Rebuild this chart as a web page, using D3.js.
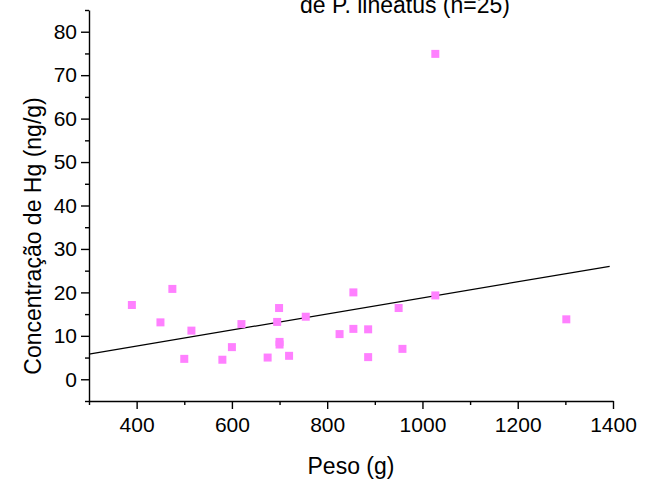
<!DOCTYPE html>
<html>
<head>
  <meta charset="UTF-8">
  <style>
    body { margin: 0; background: #fff; }
    text { font-family: "Liberation Sans", Arial, sans-serif; fill: #000; }
  </style>
</head>
<body>
<div id="chart_div"></div>
<script src="https://d3js.org/d3.v7.min.js"></script>
<script>

// peso (g) and Hg concentration (ng/g) of each fish
const peso = [390, 450, 475, 500, 515, 580, 600, 620, 675, 695, 699, 700, 700,
              720, 755, 826, 855, 855, 886, 886, 950, 958, 1027, 1027, 1302];
const hg   = [17.1, 13.1, 20.8, 4.7, 11.2, 4.5, 7.4, 12.7, 5.0, 13.2, 16.4, 8.6, 8.0,
              5.4, 14.4, 10.4, 20.0, 11.6, 11.5, 5.1, 16.4, 7.0, 19.3, 74.9, 13.8];

// regression line end points
const fitX = [300, 1393];
const fitY = [5.8, 26.0];

const xMajor = [400, 600, 800, 1000, 1200, 1400];
const xMinor = [300, 500, 700, 900, 1100, 1300];
const yMajor = [0, 10, 20, 30, 40, 50, 60, 70, 80];
const yMinor = [-5, 5, 15, 25, 35, 45, 55, 65, 75, 85];

const titleText = "de P. lineatus (n=25)";
const xTitle = "Peso (g)";
const yTitle = "Concentração de Hg (ng/g)";

let width = 646, height = 480;

let svg = d3.select("#chart_div")
    .append("svg")
    .attr("width", width)
    .attr("height", height);

let x = d3.scaleLinear().domain([300, 1400]).range([89, 613]);
let y = d3.scaleLinear().domain([-5, 85]).range([401, 10]);

// Axes
let xAxisG = svg.append("g").attr("transform", "translate(0," + y(-5) + ")");
xAxisG.call(d3.axisBottom(x).tickValues(xMajor).tickSize(8).tickSizeOuter(0)
    .tickPadding(8).tickFormat(d3.format("d")));
xAxisG.append("g").call(d3.axisBottom(x).tickValues(xMinor).tickSize(4).tickSizeOuter(0).tickFormat(""))
    .select(".domain").remove();

let yAxisG = svg.append("g").attr("transform", "translate(" + x(300) + ",0)");
yAxisG.call(d3.axisLeft(y).tickValues(yMajor).tickSize(8).tickSizeOuter(0)
    .tickPadding(4).tickFormat(d3.format("d")));
yAxisG.append("g").call(d3.axisLeft(y).tickValues(yMinor).tickSize(4).tickSizeOuter(0).tickFormat(""))
    .select(".domain").remove();

svg.selectAll(".domain").attr("stroke", "#000").attr("stroke-width", 1.4);
svg.selectAll(".tick line").attr("stroke", "#000").attr("stroke-width", 1.4);
svg.selectAll(".tick text")
    .style("font-family", "'Liberation Sans', Arial, sans-serif")
    .style("font-size", "21px")
    .attr("fill", "#000");

// Regression line
svg.append("line")
    .attr("x1", x(fitX[0])).attr("y1", y(fitY[0]))
    .attr("x2", x(fitX[1])).attr("y2", y(fitY[1]))
    .attr("stroke", "#000")
    .attr("stroke-width", 1.2);

// Points
let s = 8;
svg.append("g")
    .selectAll("rect")
    .data(peso.map((p, i) => ({p: p, h: hg[i]})))
    .enter()
      .append("rect")
      .attr("x", d => x(d.p) - s / 2)
      .attr("y", d => y(d.h) - s / 2)
      .attr("width", s)
      .attr("height", s)
      .attr("fill", "#ff80ff");

// Titles (the top title is cut by the page edge, as in the original)
svg.append("text")
    .attr("x", 405).attr("y", 13)
    .attr("text-anchor", "middle")
    .style("font-size", "23px")
    .text(titleText);

svg.append("text")
    .attr("x", 351).attr("y", 474)
    .attr("text-anchor", "middle")
    .style("font-size", "23px")
    .text(xTitle);

svg.append("text")
    .attr("transform", "translate(41,236) rotate(-90)")
    .attr("text-anchor", "middle")
    .style("font-size", "23px")
    .text(yTitle);

</script>
</body>
</html>
